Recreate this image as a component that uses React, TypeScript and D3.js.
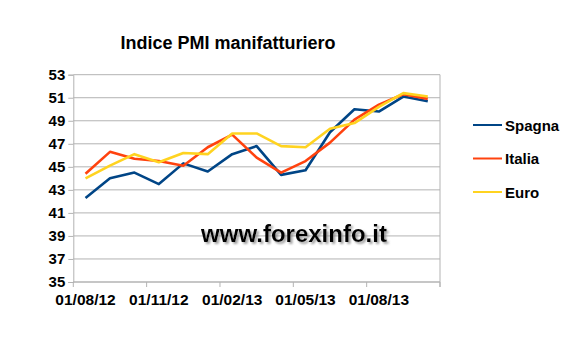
import * as d3 from "d3";
import React, { useEffect, useRef } from "react";

// 15 mesi, da 01/08/12
const months = [
  "01/08/12", "01/09/12", "01/10/12", "01/11/12", "01/12/12",
  "01/01/13", "01/02/13", "01/03/13", "01/04/13", "01/05/13",
  "01/06/13", "01/07/13", "01/08/13", "01/09/13", "01/10/13",
];
const spagna = [42.3, 44.0, 44.5, 43.5, 45.3, 44.6, 46.1, 46.8, 44.3, 44.7, 48.0, 50.0, 49.8, 51.1, 50.7];
const italia = [44.4, 46.3, 45.7, 45.5, 45.1, 46.7, 47.8, 45.8, 44.5, 45.5, 47.1, 49.1, 50.4, 51.3, 50.9];
const euro = [44.0, 45.1, 46.1, 45.4, 46.2, 46.1, 47.9, 47.9, 46.8, 46.7, 48.3, 48.8, 50.2, 51.4, 51.1];
const yTicks = [35, 37, 39, 41, 43, 45, 47, 49, 51, 53];

const series = [
  { name: "Spagna", values: spagna, color: "#004586" },
  { name: "Italia", values: italia, color: "#ff420e" },
  { name: "Euro", values: euro, color: "#ffd320" },
];

const App: React.FC = () => {
  const svgRef = useRef<SVGSVGElement | null>(null);

  useEffect(() => {
    const svg = d3.select(svgRef.current);
    const width = 580;
    const height = 353;
    const margin = { top: 74.7, right: 140, bottom: 71, left: 73.3 };

    svg.selectAll("*").remove();

    const font = "'Liberation Sans', Arial, sans-serif";

    // ombra per la scritta del sito
    svg
      .append("defs")
      .append("filter")
      .attr("id", "shadow")
      .append("feDropShadow")
      .attr("dx", 2)
      .attr("dy", 2)
      .attr("stdDeviation", 1)
      .attr("flood-color", "#888")
      .attr("flood-opacity", 0.8);

    const x = d3
      .scaleBand()
      .domain(months)
      .range([margin.left, width - margin.right]);

    const y = d3
      .scaleLinear()
      .domain([35, 53])
      .range([height - margin.bottom, margin.top]);

    // griglia
    svg
      .append("g")
      .selectAll("line")
      .data(yTicks)
      .join("line")
      .attr("x1", margin.left)
      .attr("x2", width - margin.right)
      .attr("y1", (d) => y(d))
      .attr("y2", (d) => y(d))
      .attr("stroke", "#b3b3b3")
      .attr("stroke-width", 1);

    // bordo destro
    svg
      .append("line")
      .attr("x1", width - margin.right)
      .attr("x2", width - margin.right)
      .attr("y1", y(53))
      .attr("y2", y(35) + 5)
      .attr("stroke", "#b3b3b3");

    // asse y
    const yAxis = svg
      .append("g")
      .attr("transform", `translate(${margin.left},0)`)
      .call(d3.axisLeft(y).tickValues(yTicks).tickSize(5).tickPadding(3));
    yAxis.select(".domain").attr("stroke", "#b3b3b3");
    yAxis.selectAll(".tick line").attr("stroke", "#b3b3b3");
    yAxis
      .selectAll(".tick text")
      .attr("font-family", font)
      .attr("font-size", 15)
      .attr("font-weight", "bold")
      .attr("fill", "#000");

    // asse x: tacche ai confini delle categorie, etichette ogni 3 mesi
    const xBottom = y(35);
    const g = svg.append("g");
    g.append("line")
      .attr("x1", margin.left)
      .attr("x2", width - margin.right)
      .attr("y1", xBottom)
      .attr("y2", xBottom)
      .attr("stroke", "#b3b3b3");
    const tickIdx = d3.range(0, months.length + 1, 3);
    g.selectAll("line.tick")
      .data(tickIdx)
      .join("line")
      .attr("class", "tick")
      .attr("x1", (i) => (i < months.length ? x(months[i])! : width - margin.right))
      .attr("x2", (i) => (i < months.length ? x(months[i])! : width - margin.right))
      .attr("y1", xBottom)
      .attr("y2", xBottom + 5)
      .attr("stroke", "#b3b3b3");
    g.selectAll("text")
      .data(tickIdx.filter((i) => i < months.length))
      .join("text")
      .attr("x", (i) => x(months[i])! + x.bandwidth() / 2)
      .attr("y", xBottom + 23)
      .attr("text-anchor", "middle")
      .attr("font-family", font)
      .attr("font-size", 15.5)
      .attr("font-weight", "bold")
      .text((i) => months[i]);

    // watermark
    svg
      .append("text")
      .attr("x", 294)
      .attr("y", 242)
      .attr("text-anchor", "middle")
      .attr("font-family", font)
      .attr("font-size", 24)
      .attr("font-weight", "bold")
      .attr("fill", "#000")
      .attr("filter", "url(#shadow)")
      .text("www.forexinfo.it");

    // linee
    const line = d3
      .line<number>()
      .x((_, i) => x(months[i])! + x.bandwidth() / 2)
      .y((d) => y(d));

    series.forEach((s) => {
      svg
        .append("path")
        .datum(s.values)
        .attr("fill", "none")
        .attr("stroke", s.color)
        .attr("stroke-width", 2.6)
        .attr("stroke-linejoin", "round")
        .attr("d", line);
    });

    // titolo
    svg
      .append("text")
      .attr("x", 228)
      .attr("y", 49)
      .attr("text-anchor", "middle")
      .attr("font-family", font)
      .attr("font-size", 18)
      .attr("font-weight", "bold")
      .text("Indice PMI manifatturiero");

    // legenda
    const legend = svg
      .append("g")
      .selectAll("g")
      .data(series)
      .join("g")
      .attr("transform", (_, i) => `translate(473,${125 + i * 33.5})`);
    legend
      .append("line")
      .attr("x1", 0)
      .attr("x2", 29)
      .attr("stroke", (d) => d.color)
      .attr("stroke-width", 2);
    legend
      .append("text")
      .attr("x", 32)
      .attr("y", 5.5)
      .attr("font-family", font)
      .attr("font-size", 15)
      .attr("font-weight", "bold")
      .text((d) => d.name);
  }, []);

  return (
    <svg
      ref={svgRef}
      width={580}
      height={353}
      style={{ position: "absolute", left: 0, top: 0, background: "#fff" }}
    ></svg>
  );
};

export default App;
